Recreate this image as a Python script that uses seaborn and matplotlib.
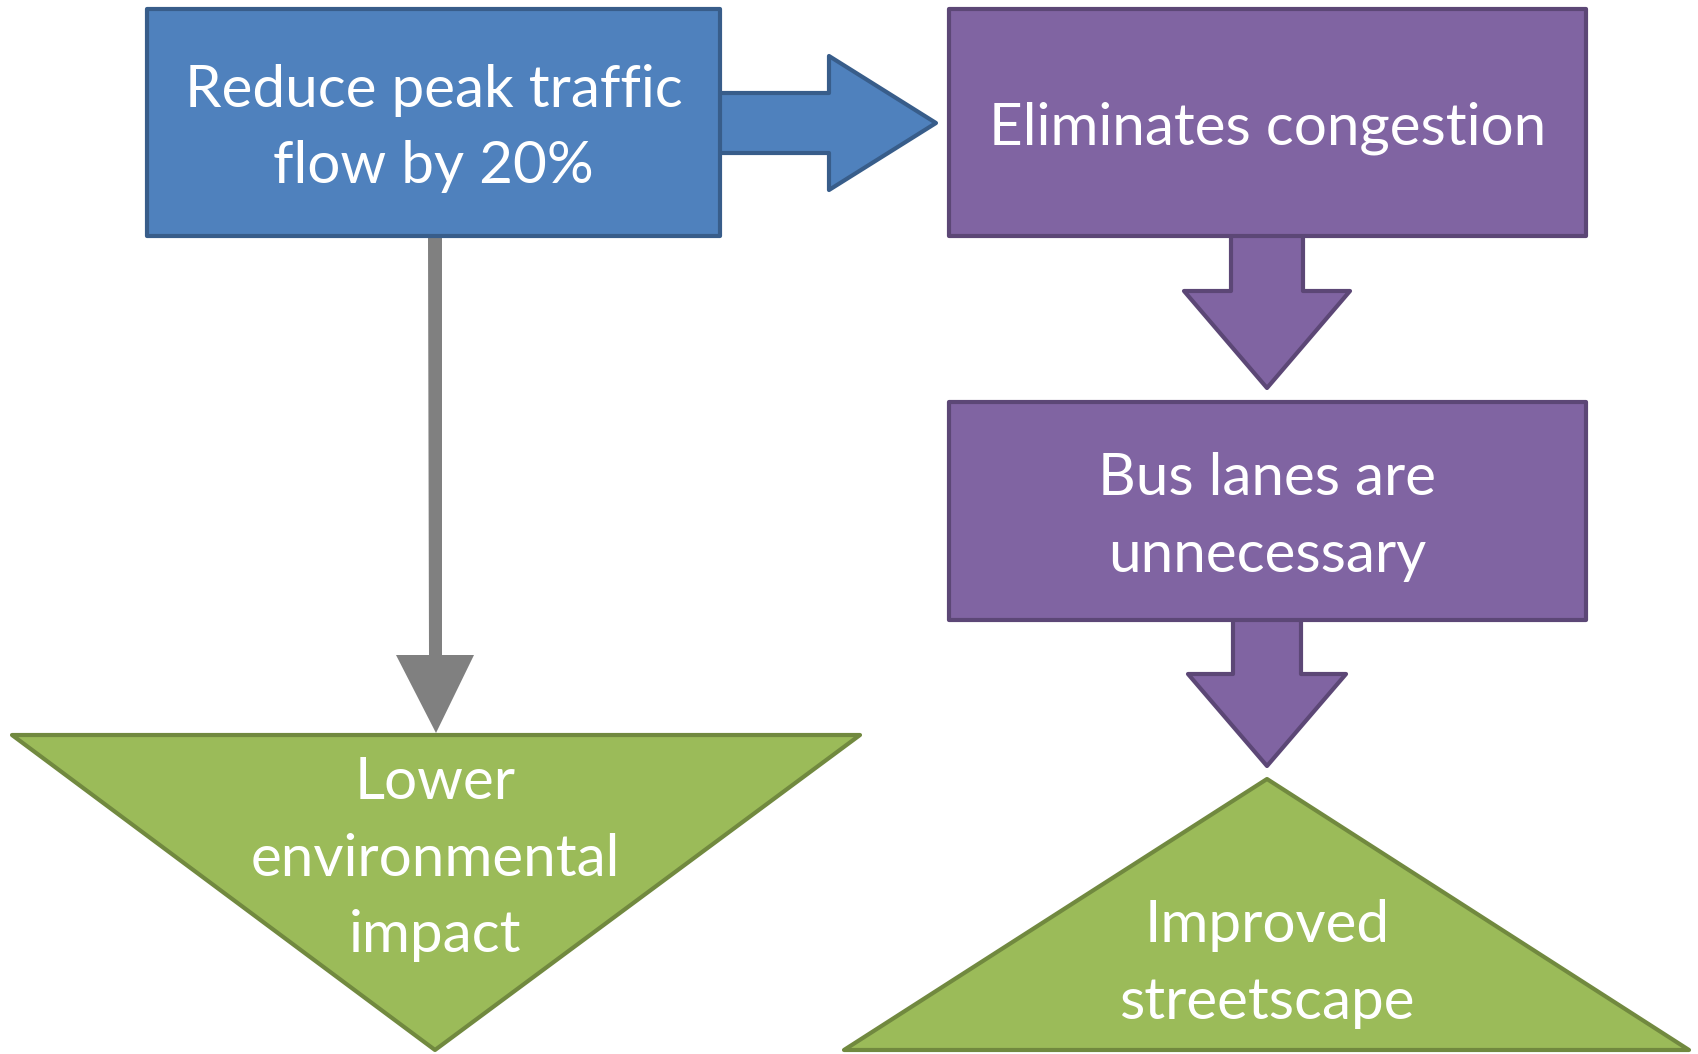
import matplotlib.pyplot as plt
import seaborn as sns
from matplotlib.patches import Polygon, Rectangle

sns.set_theme(style="white")
plt.rcParams['font.family'] = ['Lato', 'DejaVu Sans']

# box labels and geometry (pixel units, y down)
box_labels = ["Reduce peak traffic\nflow by 20%", "Eliminates congestion", "Bus lanes are\nunnecessary"]
box_x = [147, 949, 949]
box_y = [9, 9, 402]
box_w = [573, 637, 637]
box_h = [227, 227, 218]
box_fill = ["#4F81BD", "#8064A2", "#8064A2"]
box_edge = ["#385D8A", "#5C4776", "#5C4776"]

tri_labels = ["Lower\nenvironmental\nimpact", "Improved\nstreetscape"]
tri_left = [12, 844]
tri_right = [860, 1689]
tri_base_y = [735, 1050]
tri_apex = [(435, 1050), (1267, 779)]
tri_text_y = [859, 964]
green_fill = "#9BBB59"
green_edge = "#71893F"

fig = plt.figure(figsize=(16.98, 10.54), dpi=100)
ax = fig.add_axes([0, 0, 1, 1])
ax.set_xlim(0, 1698)
ax.set_ylim(1054, 0)
ax.axis("off")


def block_arrow_right(x0, x1, xh, yc, shaft_half, head_half, fc, ec):
    pts = [(x0, yc - shaft_half), (xh, yc - shaft_half), (xh, yc - head_half), (x1, yc),
           (xh, yc + head_half), (xh, yc + shaft_half), (x0, yc + shaft_half)]
    ax.add_patch(Polygon(pts, closed=True, fc=fc, ec=ec, lw=3, joinstyle="round", zorder=2))


def block_arrow_down(y0, y1, yh, xc, shaft_half, head_half, fc, ec):
    pts = [(xc - shaft_half, y0), (xc - shaft_half, yh), (xc - head_half, yh), (xc, y1),
           (xc + head_half, yh), (xc + shaft_half, yh), (xc + shaft_half, y0)]
    ax.add_patch(Polygon(pts, closed=True, fc=fc, ec=ec, lw=3, joinstyle="round", zorder=2))


# arrows
block_arrow_right(718, 936, 829, 123, 30, 67, box_fill[0], box_edge[0])
block_arrow_down(234, 388, 291, 1267, 36, 83, box_fill[1], box_edge[1])
block_arrow_down(618, 766, 674, 1267, 34, 79, box_fill[2], box_edge[2])

# gray connector
ax.add_patch(Polygon([(428, 236), (442, 236), (442, 655), (474, 655), (436, 733),
                      (396, 655), (429, 655)], closed=True, fc="#808080", ec="none", zorder=1))

# boxes
for lab, x, y, w, h, fc, ec in zip(box_labels, box_x, box_y, box_w, box_h, box_fill, box_edge):
    ax.add_patch(Rectangle((x, y), w, h, fc=fc, ec=ec, lw=3, joinstyle="round", zorder=3))
    ax.text(x + w / 2, y + h / 2 + 6, lab, ha="center", va="center", color="white",
            fontsize=42, linespacing=1.55, zorder=4)

# triangles
for lab, xl, xr, yb, apex, ty in zip(tri_labels, tri_left, tri_right, tri_base_y, tri_apex, tri_text_y):
    ax.add_patch(Polygon([(xl, yb), (xr, yb), apex], closed=True, fc=green_fill, ec=green_edge,
                         lw=3, joinstyle="round", zorder=3))
    ax.text(apex[0], ty, lab, ha="center", va="center", color="white",
            fontsize=42, linespacing=1.55, zorder=4)

fig.savefig("out.png", dpi=100)
